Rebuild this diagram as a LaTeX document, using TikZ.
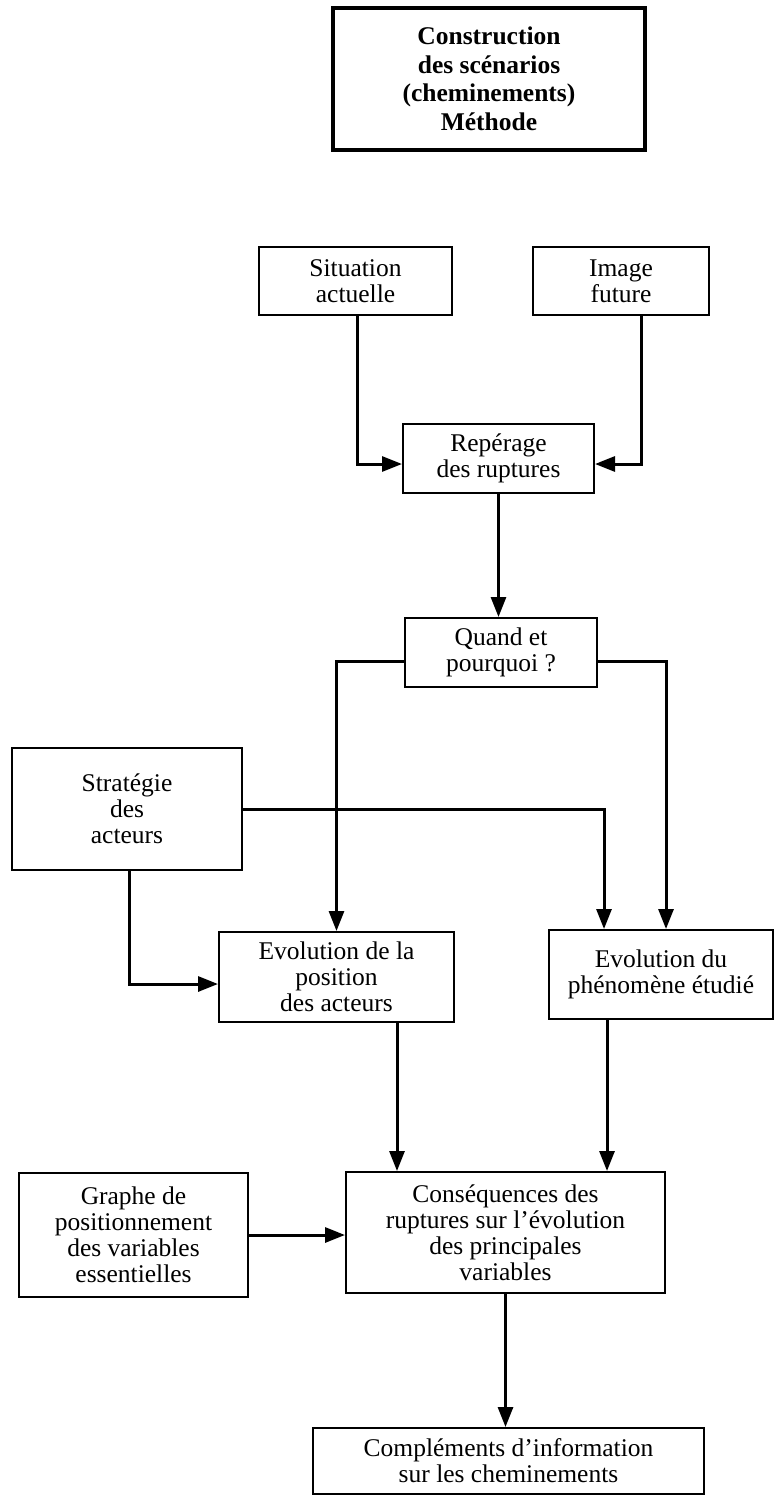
\documentclass[tikz,border=0pt]{standalone}
\usepackage{fontspec}
\setmainfont{Liberation Serif}
\usetikzlibrary{arrows.meta,positioning,calc}

\begin{document}
\begin{tikzpicture}[x=1pt,y=-1pt,
  every node/.style={font=\fontsize{25.5}{26}\selectfont},
  blk/.style={draw,line width=2pt,align=center,inner sep=0pt},
  ttl/.style={blk,line width=4.5pt,font=\fontsize{25.5}{28.5}\selectfont\bfseries},
  arr/.style={-{Triangle[length=20pt,width=15pt]},line width=3pt}]
  \useasboundingbox (0,0) rectangle (775,1496);
  \node[ttl,minimum width=312pt,minimum height=142pt] (titre) at (489,79) {Construction\\des scénarios\\(cheminements)\\Méthode};
  \node[blk,minimum width=193pt,minimum height=68pt] (sit) at (355.5,281) {Situation\\actuelle};
  \node[blk,minimum width=176pt,minimum height=68pt] (img) at (621,281) {Image\\future};
  \node[blk,minimum width=191pt,minimum height=69pt] (rep) at (498.5,458.5) {Repérage\\des ruptures};
  \node[blk,minimum width=192pt,minimum height=69pt] (quand) at (501,652.5) {Quand et\\pourquoi ?};
  \node[blk,minimum width=230pt,minimum height=122pt] (strat) at (127,809) {Stratégie\\des\\acteurs};
  \node[blk,minimum width=235pt,minimum height=90pt] (evpos) at (336.5,977) {Evolution de la\\position\\des acteurs};
  \node[blk,minimum width=224pt,minimum height=89pt] (evphen) at (661,974.5) {Evolution du\\phénomène étudié};
  \node[blk,minimum width=229pt,minimum height=124pt] (graphe) at (133.5,1235) {Graphe de\\positionnement\\des variables\\essentielles};
  \node[blk,minimum width=319pt,minimum height=121pt] (cons) at (505.5,1232.5) {Conséquences des\\ruptures sur l’évolution\\des principales\\variables};
  \node[blk,minimum width=391pt,minimum height=66pt] (compl) at (508.5,1461) {Compléments d’information\\sur les cheminements};
  \draw[arr] ([xshift=1.5pt]sit.south) |- ([yshift=-5.5pt]rep.west);
  \draw[arr] ([xshift=20pt]img.south) |- ([yshift=-5.5pt]rep.east);
  \draw[arr] (rep.south) -- (rep.south |- quand.north);
  \draw[arr] ([yshift=-8.5pt]quand.west) -| (evpos.north);
  \draw[arr] ([yshift=-8.5pt]quand.east) -| ([xshift=5pt]evphen.north);
  \draw[arr] (strat.east) -| ([xshift=-57pt]evphen.north);
  \draw[arr] ([xshift=2pt]strat.south) |- ([yshift=-7pt]evpos.west);
  \draw[arr] ([xshift=60.5pt]evpos.south) -- ([xshift=60.5pt]evpos.south |- cons.north);
  \draw[arr] ([xshift=-54pt]evphen.south) -- ([xshift=-54pt]evphen.south |- cons.north);
  \draw[arr] (graphe.east) -- (graphe.east -| cons.west);
  \draw[arr] (cons.south) -- (cons.south |- compl.north);
\end{tikzpicture}
\end{document}
